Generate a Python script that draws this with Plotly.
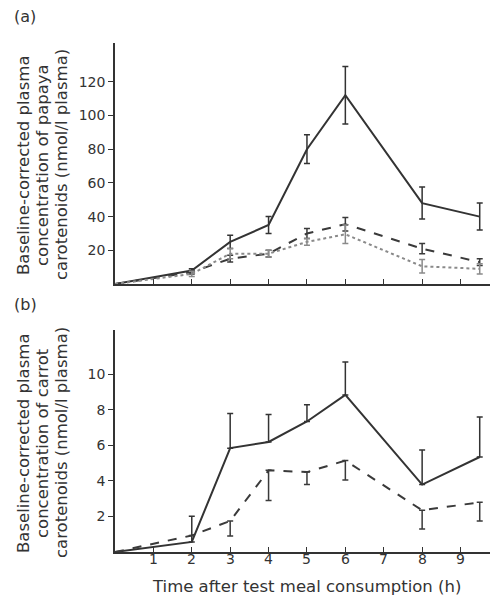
import plotly.graph_objects as go

# ---- data ----
hours = [0, 2, 3, 4, 5, 6, 8, 9.5]

# panel (a) papaya carotenoids
a_solid = [0, 8, 25, 35, 80, 112, 48, 40]
a_solid_err = [0, 1, 4, 5, 8.5, 17, 9.5, 8]
a_dashed = [0, 7, 15, 18, 30, 35.5, 21, 13]
a_dashed_err = [0, 1, 2, 2, 3, 4, 3, 2]
a_dotted = [0, 6, 18, 18, 25, 29.5, 10.5, 9]
a_dotted_err = [0, 1.5, 3, 2, 2, 5.5, 4, 3]

# panel (b) carrot carotenoids
b_solid = [0, 0.57, 5.85, 6.2, 7.35, 8.85, 3.8, 5.35]
b_solid_err_plus = [0, 1.45, 1.95, 1.55, 0.95, 1.85, 1.95, 2.25]
b_dashed = [0, 0.93, 1.75, 4.6, 4.5, 5.15, 2.35, 2.8]
b_dashed_err_minus = [0, 0, 0.85, 1.7, 0.7, 1.1, 1.05, 1.05]

x_ticks = [1, 2, 3, 4, 5, 6, 7, 8, 9]
a_yticks = [20, 40, 60, 80, 100, 120]
b_yticks = [2, 4, 6, 8, 10]

a_label = ["Baseline-corrected plasma", "concentration of papaya", "carotenoids (nmol/l plasma)"]
b_label = ["Baseline-corrected plasma", "concentration of carrot", "carotenoids (nmol/l plasma)"]
x_title = "Time after test meal consumption (h)"

FONT = "DejaVu Sans, sans-serif"
INK = "#333333"

fig = go.Figure()

def add(x, y, color, dash, xa, ya, err=None, plus=None, minus=None):
    if err is not None:
        ey = dict(type="data", array=err, visible=True, color=color, thickness=1.5, width=3)
    else:
        ey = dict(type="data", symmetric=False, array=plus, arrayminus=minus,
                  visible=True, color=color, thickness=1.5, width=3)
    fig.add_trace(go.Scatter(x=x, y=y, mode="lines", xaxis=xa, yaxis=ya,
                             line=dict(color=color, width=2, dash=dash),
                             error_y=ey, showlegend=False))

add(hours, a_solid, "#333333", "solid", "x", "y", err=a_solid_err)
add(hours, a_dashed, "#3a3a3a", "dash", "x", "y", err=a_dashed_err)
add(hours, a_dotted, "#8a8a8a", "dot", "x", "y", err=a_dotted_err)

zeros = [0] * len(hours)
add(hours, b_solid, "#333333", "solid", "x2", "y2", plus=b_solid_err_plus, minus=zeros)
add(hours, b_dashed, "#3a3a3a", "dash", "x2", "y2", plus=zeros, minus=b_dashed_err_minus)

axis_common = dict(showline=True, linecolor=INK, linewidth=1.5, showgrid=False,
                   zeroline=False, ticklen=5, tickcolor=INK, tickwidth=1.2,
                   tickfont=dict(family=FONT, size=14, color=INK))

fig.update_layout(
    width=498, height=599,
    margin=dict(l=107, r=9, t=35, b=55),
    paper_bgcolor="white", plot_bgcolor="white",
    font=dict(family=FONT, color=INK),
    xaxis=dict(axis_common, domain=[0, 1], range=[0, 9.95], tickvals=x_ticks,
               showticklabels=False, ticks="inside", anchor="y"),
    yaxis=dict(axis_common, domain=[0.5265, 1], range=[0, 143], tickvals=a_yticks,
               ticks="outside", anchor="x"),
    xaxis2=dict(axis_common, domain=[0, 1], range=[0, 9.95], tickvals=x_ticks,
                showticklabels=False, ticks="inside", anchor="y2"),
    yaxis2=dict(axis_common, domain=[0, 0.436], range=[0, 12.5], tickvals=b_yticks,
                ticks="outside", anchor="x2"),
)

def px_x(px):
    return (px - 107) / (498 - 107 - 9)
def px_y(py):
    return (599 - 55 - py) / (599 - 35 - 55)

# x tick labels of panel (b), placed closer to the axis than plotly's default
for v in x_ticks:
    fig.add_annotation(text=str(v), x=v, xref="x2", y=px_y(551), yref="paper",
                       xanchor="center", yanchor="middle", showarrow=False,
                       font=dict(family=FONT, size=14, color=INK))

ann_font = dict(family=FONT, size=16, color=INK)
fig.add_annotation(text="(a)", x=px_x(4), y=px_y(9), xref="paper", yref="paper",
                   xanchor="left", yanchor="middle", showarrow=False, font=ann_font)
fig.add_annotation(text="(b)", x=px_x(4), y=px_y(297), xref="paper", yref="paper",
                   xanchor="left", yanchor="middle", showarrow=False, font=ann_font)

fig.add_annotation(text=x_title, x=px_x(298), y=px_y(578), xref="paper", yref="paper",
                   xanchor="center", yanchor="middle", showarrow=False,
                   font=dict(family=FONT, size=16.5, color=INK))

lab_font = dict(family=FONT, size=16.5, color=INK)
for lines, cy in ((a_label, 157), (b_label, 435)):
    for line, cx in zip(lines, (15, 34, 53)):
        fig.add_annotation(text=line, x=px_x(cx), y=px_y(cy), xref="paper", yref="paper",
                           textangle=-90, showarrow=False, font=lab_font,
                           xanchor="center", yanchor="middle")

fig.write_html("out.html")
